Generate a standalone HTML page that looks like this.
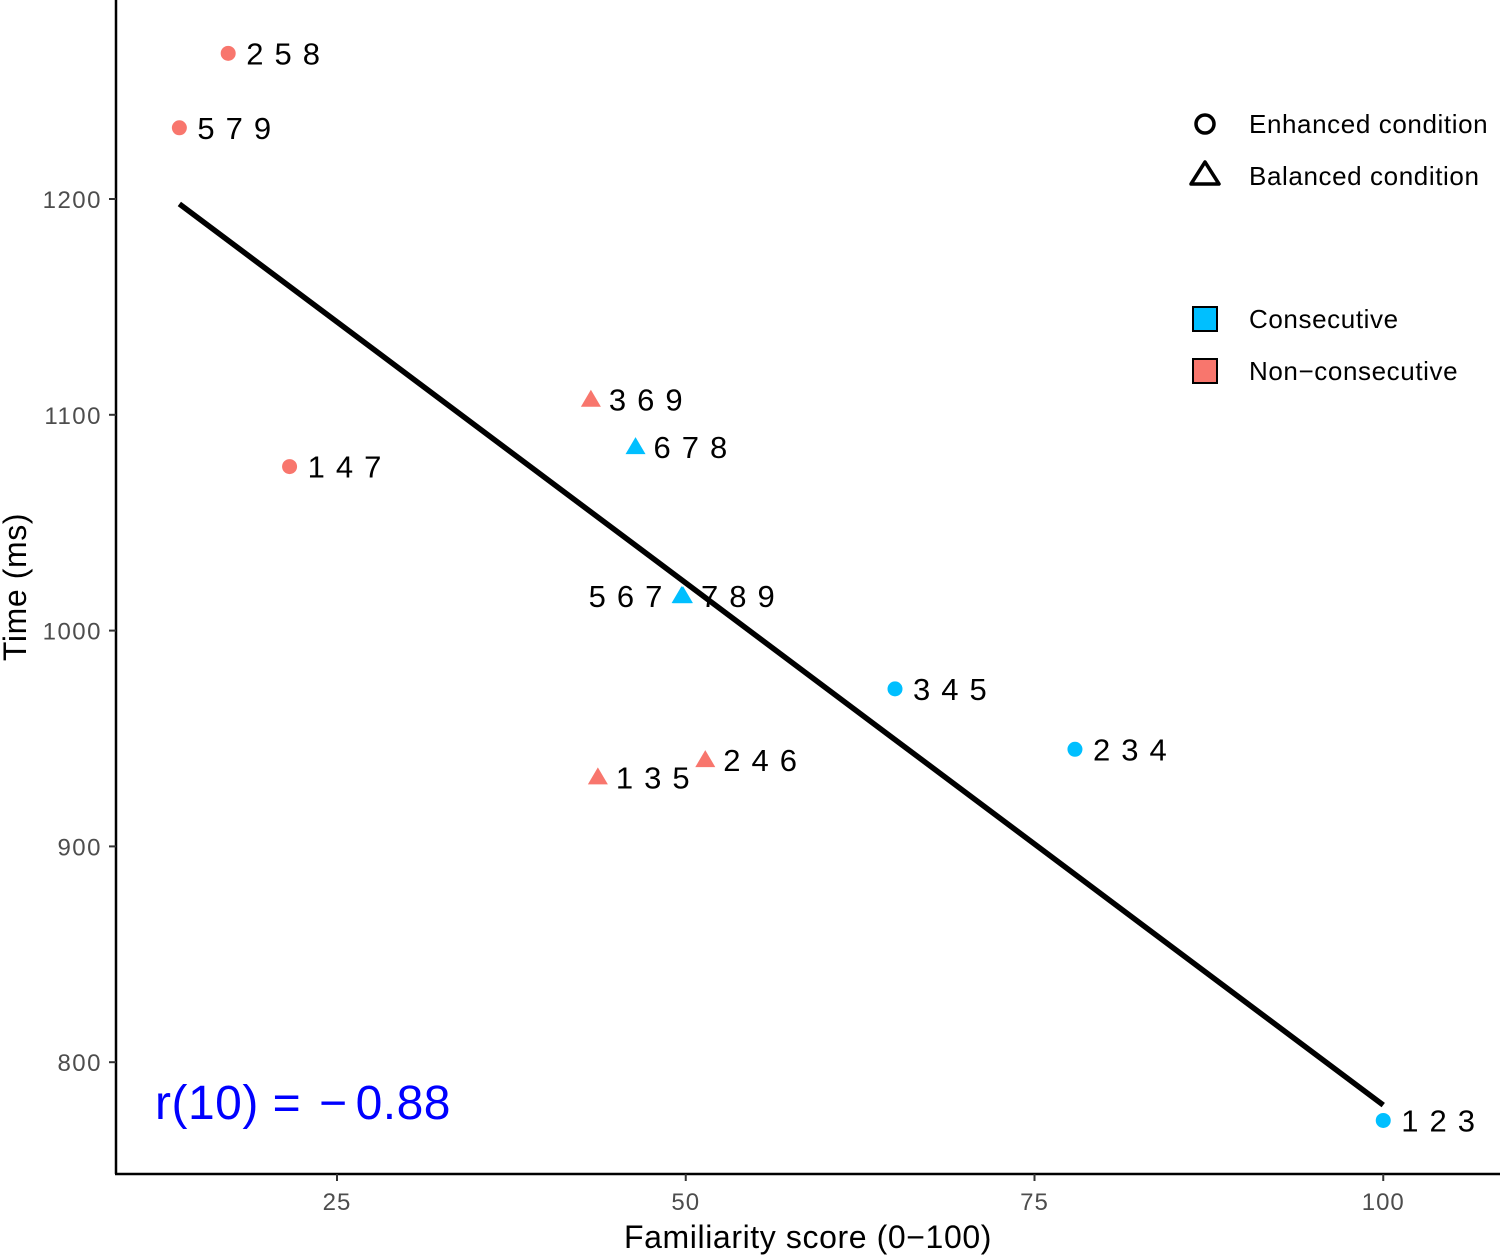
<!DOCTYPE html>
<html><head><meta charset="utf-8"><style>
body{margin:0;background:#fff;}
svg{display:block;font-family:"Liberation Sans",sans-serif;}
</style></head><body>
<svg id="chart" width="1500" height="1255" viewBox="0 0 1500 1255">
<g id="marks"></g>
<line x1="116" y1="0" x2="116" y2="1174" stroke="#000" stroke-width="2.5"/>
<line x1="115" y1="1174" x2="1500" y2="1174" stroke="#000" stroke-width="2.5"/>
<text x="808" y="1248" font-size="32" letter-spacing="0.6" text-anchor="middle">Familiarity score (0−100)</text>
<text transform="translate(26,587) rotate(-90)" font-size="32" letter-spacing="0.6" text-anchor="middle">Time (ms)</text>
<text x="155" y="1119" font-size="48" fill="#0000ff" letter-spacing="0.5">r(10) = <tspan dx="4">−</tspan><tspan dx="8">0.88</tspan></text>
<g>
<circle cx="1205" cy="124" r="9" fill="none" stroke="#000" stroke-width="3.5"/>
<text x="1249" y="133" font-size="26" letter-spacing="0.6">Enhanced condition</text>
<polygon points="1205,162 1219,184 1191,184" fill="none" stroke="#000" stroke-width="3.5" stroke-linejoin="round"/>
<text x="1249" y="185" font-size="26" letter-spacing="0.6">Balanced condition</text>
<rect x="1193" y="307" width="24" height="24" fill="#00BFFF" stroke="#000" stroke-width="2"/>
<text x="1249" y="328" font-size="26" letter-spacing="0.6">Consecutive</text>
<rect x="1193" y="359" width="24" height="24" fill="#F8766D" stroke="#000" stroke-width="2"/>
<text x="1249" y="380" font-size="26" letter-spacing="0.6">Non−consecutive</text>
</g>
</svg>
<script>
const labels = ["2 5 8","5 7 9","1 4 7","3 6 9","6 7 8","5 6 7","7 8 9","3 4 5","2 3 4","1 3 5","2 4 6","1 2 3"];
const familiarity = [17.2,13.7,21.6,43.2,46.4,49.7,49.8,65.0,77.9,43.7,51.4,100];
const timeMs = [1267.5,1233,1076,1107,1085,1016,1016,973,945,932,940,773];
const shapes = ["circle","circle","circle","triangle","triangle","triangle","triangle","circle","circle","triangle","triangle","circle"];
const groups = ["non","non","non","non","cons","cons","cons","cons","cons","non","non","cons"];
const labelSide = ["right","right","right","right","right","left","right","right","right","right","right","right"];
const xTicks = [25,50,75,100];
const yTicks = [800,900,1000,1100,1200];

const NS="http://www.w3.org/2000/svg";
function xs(v){return 337+(v-25)*13.95;}
function ys(v){return 199+(1200-v)*2.158;}
const svg=document.getElementById('chart');
const g=document.getElementById('marks');
function mk(t,a,p){const e=document.createElementNS(NS,t);for(const k in a)e.setAttribute(k,a[k]);(p||g).appendChild(e);return e;}
const colors={cons:"#00BFFF",non:"#F8766D"};

xTicks.forEach(t=>{
  const l=mk('line',{x1:xs(t),x2:xs(t),y1:1174,y2:1181,stroke:"#333","stroke-width":2},svg);
  
  
  const tx=mk('text',{x:xs(t),y:1210,"font-size":24,"letter-spacing":1,fill:"#4d4d4d","text-anchor":"middle"},svg);
  tx.textContent=t;
  
  
});
yTicks.forEach(t=>{
  const l=mk('line',{x1:109,x2:116,y1:ys(t),y2:ys(t),stroke:"#333","stroke-width":2},svg);
  
  
  const tx=mk('text',{x:102,y:ys(t)+9,"font-size":24,"letter-spacing":1.5,fill:"#4d4d4d","text-anchor":"end"},svg);
  tx.textContent=t;
  
  
});

familiarity.forEach((f,i)=>{
  const cx=xs(f),cy=ys(timeMs[i]),c=colors[groups[i]];
  let m;
  if(shapes[i]==="circle") m=mk('circle',{cx:cx,cy:cy,r:7.5,fill:c});
  else m=mk('polygon',{points:`${cx},${cy-10} ${cx+10},${cy+7} ${cx-10},${cy+7}`,fill:c});
  
  
  const right=labelSide[i]==="right";
  const t=mk('text',{x:right?cx+18:cx-18,y:cy+11,"font-size":31,"letter-spacing":1.2,"text-anchor":right?"start":"end"});
  t.textContent=labels[i];
  
  
});

const n=familiarity.length;
const mx=familiarity.reduce((a,b)=>a+b)/n, my=timeMs.reduce((a,b)=>a+b)/n;
let sxy=0,sxx=0;
for(let i=0;i<n;i++){sxy+=(familiarity[i]-mx)*(timeMs[i]-my);sxx+=(familiarity[i]-mx)**2;}
const slope=sxy/sxx, icpt=my-slope*mx;
const x0=Math.min(...familiarity), x1=Math.max(...familiarity);
const rl=mk('line',{x1:xs(x0),y1:ys(icpt+slope*x0),x2:xs(x1),y2:ys(icpt+slope*x1),stroke:"#000","stroke-width":5.5});


</script>
</body></html>
